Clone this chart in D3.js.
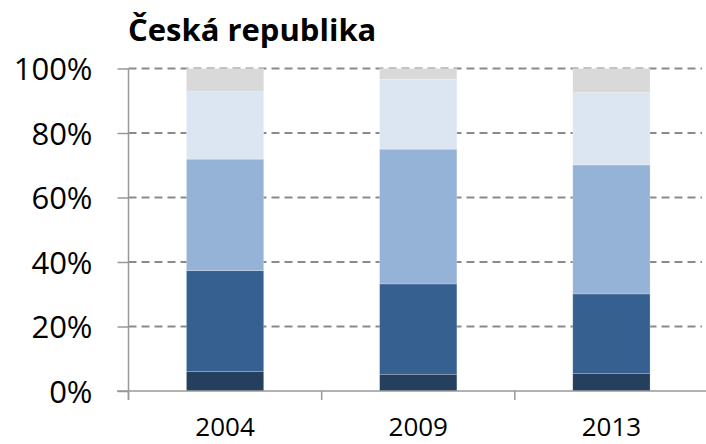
<!DOCTYPE html>
<html>
<head>
<meta charset="utf-8">
<script src="https://cdn.jsdelivr.net/npm/d3@7"></script>
<style>
  body { margin: 0; background: #fff; }
  text { font-family: "Open Sans", sans-serif; }
</style>
</head>
<body>
<div id="chart"></div>
<script>
const width = 706;
const height = 444;

const title = "Česká republika";
const years = ["2004", "2009", "2013"];
const seriesKeys = ["s1", "s2", "s3", "s4", "s5"];
const s1 = [6.0, 5.2, 5.5];
const s2 = [31.3, 28.0, 24.6];
const s3 = [34.6, 41.8, 40.0];
const s4 = [20.9, 21.7, 22.4];
const s5 = [7.2, 3.3, 7.5];
const yTicks = [0, 0.2, 0.4, 0.6, 0.8, 1];
const colors = ["#253f5f", "#366090", "#95b3d7", "#dce6f2", "#d9d9d9"];

const rows = years.map((y, i) => ({
    year: y, s1: s1[i], s2: s2[i], s3: s3[i], s4: s4[i], s5: s5[i]
}));

const stacked = d3.stack()
    .keys(seriesKeys)
    .offset(d3.stackOffsetExpand)(rows);

const svg = d3.select("#chart")
    .append("svg")
    .attr("width", width)
    .attr("height", height);

const x = d3.scaleBand(years, [128.5, 708])
    .paddingInner(0.6)
    .paddingOuter(0.3);

const y = d3.scaleLinear([0, 1], [391, 68.5]);

// dashed gridlines
svg.append("g")
    .selectAll("line")
    .data(yTicks.filter(d => d > 0))
    .join("line")
    .attr("x1", 128.5)
    .attr("x2", 702)
    .attr("y1", d => y(d))
    .attr("y2", d => y(d))
    .attr("stroke", "#8a8a8a")
    .attr("stroke-width", 2)
    .attr("stroke-dasharray", "8,5");

// bars
svg.append("g")
    .selectAll("g")
    .data(stacked)
    .join("g")
    .attr("fill", (d, i) => colors[i])
    .selectAll("rect")
    .data(d => d)
    .join("rect")
    .attr("x", d => x(d.data.year))
    .attr("width", x.bandwidth())
    .attr("y", d => y(d[1]))
    .attr("height", d => y(d[0]) - y(d[1]))
    .attr("stroke", "#ffffff")
    .attr("stroke-opacity", 0.35)
    .attr("stroke-width", 0.6);

// y axis
const yAxis = svg.append("g")
    .attr("transform", "translate(128.5,0)")
    .call(d3.axisLeft(y).tickValues(yTicks).tickSize(11).tickPadding(25)
        .tickFormat(d3.format(".0%")));
yAxis.select(".domain").attr("stroke", "#999").attr("stroke-width", 1.5)
    .attr("d", "M0,68.5V400");
yAxis.selectAll(".tick line").attr("stroke", "#999").attr("stroke-width", 1.5);
yAxis.selectAll(".tick text")
    .attr("font-size", 31)
    .attr("fill", "#000")
    .attr("dy", "0.36em")
    .style("font-family", "'Open Sans', sans-serif");

// x axis
const xAxis = svg.append("g")
    .attr("transform", "translate(0,391)")
    .call(d3.axisBottom(x).tickSize(0).tickPadding(0));
xAxis.select(".domain").attr("stroke", "#999").attr("stroke-width", 1.5)
    .attr("d", "M117,0H706");
xAxis.selectAll(".tick text")
    .attr("font-size", 26)
    .attr("fill", "#000")
    .attr("y", 45)
    .attr("dy", 0)
    .style("font-family", "'Open Sans', sans-serif");

// category boundary ticks
const step = x.step();
svg.append("g")
    .selectAll("line")
    .data(years)
    .join("line")
    .attr("x1", d => x(d) - step * 0.3)
    .attr("x2", d => x(d) - step * 0.3)
    .attr("y1", 391)
    .attr("y2", 400)
    .attr("stroke", "#999")
    .attr("stroke-width", 1.5);

svg.append("text")
    .attr("x", 128)
    .attr("y", 41)
    .attr("font-size", 31)
    .attr("font-weight", "bold")
    .attr("fill", "#000")
    .text(title);
</script>
</body>
</html>
